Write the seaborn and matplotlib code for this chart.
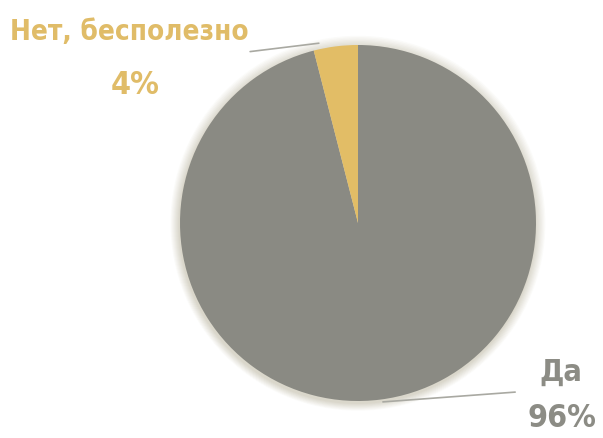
import numpy as np
import matplotlib
matplotlib.use("Agg")
import matplotlib.pyplot as plt
import seaborn as sns
from matplotlib.patches import Circle
from matplotlib import font_manager as fm
from matplotlib.colors import to_rgb

labels = ["Да", "Нет, бесполезно"]
values = [96, 4]
pct_labels = ["96%", "4%"]
colors = ["#8a8a83", "#e2bd66"]
text_colors = ["#8c8c85", "#e0bc68"]

sns.set_theme(style="white")
names = {f.name for f in fm.fontManager.ttflist}
family = 'Liberation Sans Narrow' if 'Liberation Sans Narrow' in names else 'DejaVu Sans'
plt.rcParams['font.family'] = [family, 'DejaVu Sans']

fig = plt.figure(figsize=(6.03, 4.38), dpi=100)
ax = fig.add_axes([0, 0, 1, 1])
R = 178.0
cx, cy = 358.0, 223.0

# soft ring / shadow behind the pie (gradient from white to light beige)
c_out = np.array(to_rgb("#ffffff"))
c_in = np.array(to_rgb("#dad7cb"))
n = 10
for i in range(n):
    t = i / (n - 1)
    r = 1.055 - 0.055 * t
    col = c_out * (1 - t) + c_in * t
    ax.add_patch(Circle((-0.004 * t, -0.012 * t), r, color=col, zorder=0.1 + i * 0.01))

wedges, _ = ax.pie(values, colors=colors, startangle=90, counterclock=False,
                   radius=1.0, wedgeprops=dict(linewidth=0))
for w in wedges:
    w.set_zorder(2)
ax.set_xlim(-cx / R, (603 - cx) / R)
ax.set_ylim(-(438 - cy) / R, cy / R)
ax.set_aspect('equal')
ax.axis('off')

# leader lines
line_color = "#a9a9a2"
ax.plot([-0.22, -0.606], [1.01, 0.963], color=line_color, lw=1.2, zorder=3)
ax.plot([0.14, 0.883], [-1.005, -0.95], color=line_color, lw=1.2, zorder=1)

fs = 24 if family != 'DejaVu Sans' else 20
fs_da = 24 if family != 'DejaVu Sans' else 22
fs_pct = 24 if family != 'DejaVu Sans' else 23
stretch = 'normal' if family != 'DejaVu Sans' else 'condensed'
kw = dict(ha='center', va='center', fontweight='bold', fontstretch=stretch)
ax.text(-1.287, 1.073, labels[1], color=text_colors[1], fontsize=fs, **kw)
ax.text(-1.253, 0.775, pct_labels[1], color=text_colors[1], fontsize=fs_pct, **kw)
ax.text(1.14, -0.84, labels[0], color=text_colors[0], fontsize=fs_da, **kw)
ax.text(1.148, -1.1, pct_labels[0], color=text_colors[0], fontsize=fs_pct, **kw)

fig.savefig("out.png", dpi=100)
